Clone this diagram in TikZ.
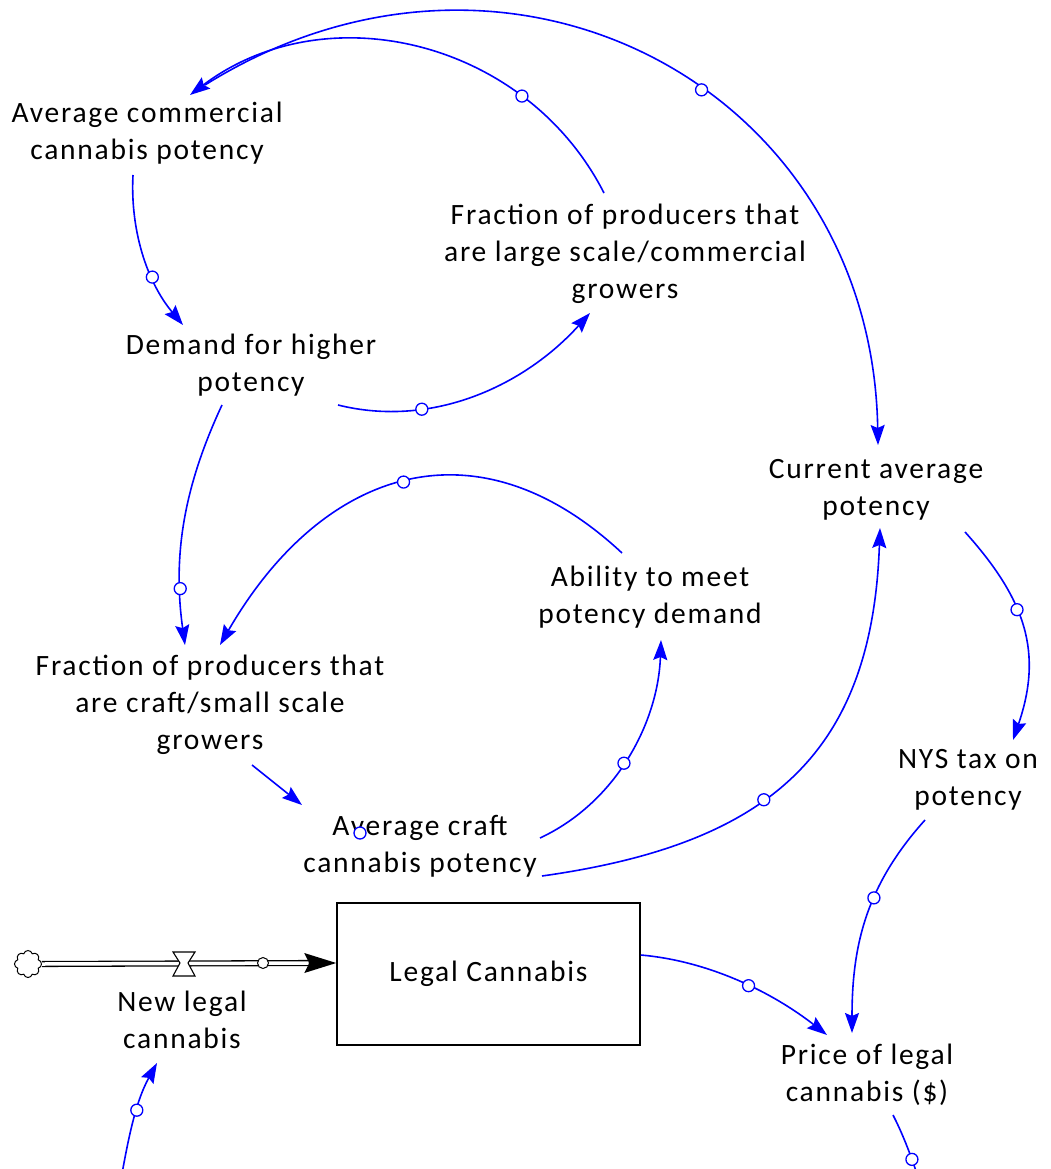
\documentclass[tikz,border=0pt]{standalone}
\usepackage{fontspec}
\setmainfont{Carlito}[LetterSpace=6]
\usetikzlibrary{arrows.meta,shapes.symbols}
\definecolor{linkblue}{RGB}{0,0,255}
\begin{document}
\begin{tikzpicture}[x=1pt,y=1pt,
  lbl/.style={align=center, inner sep=0pt, text=black, font=\fontsize{29.5}{37}\selectfont},
  link/.style={draw=linkblue, line width=1.6pt, -{Stealth[length=20pt,width=14pt,inset=3pt]}},
  pol/.style={circle, draw=linkblue, fill=white, line width=1.3pt, minimum size=12pt, inner sep=0pt},
  pipe/.style={draw=black, line width=1.3pt, double=white, double distance=3.5pt},
]
\clip (0,0) rectangle (1051,-1169);

% variables
\node[lbl] (acp) at (147,-133) {Average commercial\\cannabis potency};
\node[lbl] (flc) at (625,-254) {Fraction of producers that\\are large scale/commercial\\growers};
\node[lbl] (dhp) at (251,-365) {Demand for higher\\potency};
\node[lbl] (cap) at (876,-490) {Current average\\potency};
\node[lbl] (amp) at (650,-597) {Ability to meet\\potency demand};
\node[lbl] (fcs) at (210,-705) {Fraction of producers that\\are craft/small scale\\growers};
\node[lbl] (nys) at (968,-780) {NYS tax on\\potency};
\node[lbl] (acr) at (420,-846) {Average craft\\cannabis potency};
\node[lbl] (nlc) at (182,-1020) {New legal\\cannabis};
\node[lbl] (price) at (867,-1075) {Price of legal\\cannabis (\$)};

% stock
\node[lbl, draw=black, line width=1.5pt, minimum width=303pt, minimum height=142pt] (stock) at (488.5,-974) {Legal Cannabis};

% inflow pipe: source cloud, valve and arrow into the stock
\node[cloud, cloud puffs=8, draw=black, line width=1pt, fill=white, minimum width=27pt, minimum height=27pt, inner sep=0pt] (src) at (28,-964) {};
\coordinate (pipeend) at ([yshift=11]stock.west);
\draw[pipe] (src.east) -- ([xshift=-28]pipeend);
\fill[black] (pipeend) -- ([xshift=-32,yshift=10]pipeend) -- ([xshift=-27]pipeend) -- ([xshift=-32,yshift=-10]pipeend) -- cycle;
\coordinate (valve) at (184,-963);
\draw[black, line width=1.1pt, fill=white]
  ([shift={(-11,11)}]valve) -- ([shift={(11,11)}]valve) -- ([shift={(4,0)}]valve)
  -- ([shift={(11,-13)}]valve) -- ([shift={(-11,-13)}]valve) -- ([shift={(-4,0)}]valve) -- cycle;
\node[circle, draw=black, fill=white, line width=1pt, minimum size=11pt, inner sep=0pt] (flowmark) at (263,-963) {};

% causal links
\draw[link] ([shift={(87,-40)}]dhp.center) to[out=-14,in=228,looseness=0.93] node[pol,pos=0.3]{} ([shift={(-35,-59)}]flc.center);
\draw[link] ([shift={(-21,61)}]flc.center) to[out=117,in=37,looseness=1.03] node[pol,pos=0.26]{} ([shift={(43,38)}]acp.center);
\draw[link] ([shift={(58,48)}]acp.center) to[out=32,in=91,looseness=1.2] node[pol,pos=0.565]{} ([shift={(2,45)}]cap.center);
\draw[link] ([shift={(-14,-42)}]acp.center) to[out=-93,in=130,looseness=0.9] node[pol,pos=0.65]{} ([shift={(-68,40)}]dhp.center);
\draw[link] ([shift={(-29,-40)}]dhp.center) to[out=-115,in=98,looseness=0.95] node[pol,pos=0.78]{} ([shift={(-25,60)}]fcs.center);
\draw[link] ([shift={(-28,44)}]amp.center) to[out=137,in=60,looseness=1.25] node[pol,pos=0.5]{} ([shift={(10,60)}]fcs.center);
\draw[link] ([shift={(42,-60)}]fcs.center) -- ([shift={(-118,41)}]acr.center);
\node[pol] (acrmark) at (360,-833) {};
\draw[link] ([shift={(120,8)}]acr.center) to[out=25,in=-92,looseness=0.92] node[pol,pos=0.47]{} ([shift={(11,-43)}]amp.center);
\draw[link] ([shift={(122,-30)}]acr.center) to[out=8,in=-92,looseness=1.2] node[pol,pos=0.42]{} ([shift={(4,-38)}]cap.center);
\draw[link] ([shift={(89,-42)}]cap.center) to[out=-48,in=71,looseness=1.1] node[pol,pos=0.4]{} ([shift={(45,40)}]nys.center);
\draw[link] ([shift={(-43,-40)}]nys.center) to[out=-132,in=90,looseness=1.0] node[pol,pos=0.4]{} ([shift={(-15,42)}]price.center);
\draw[link] (stock.east |- 0,-955) to[out=-5,in=142,looseness=0.87] node[pol,pos=0.55]{} ([shift={(-40,40)}]price.center);

% links crossing the lower edge
\coordinate (inbelow) at (120,-1185);
\draw[link] (inbelow) to[out=80,in=241,looseness=0.9] node[pol,pos=0.6]{} ([shift={(-25,-43)}]nlc.center);
\coordinate (outbelow) at (928,-1205);
\draw[link] ([shift={(26,-40)}]price.center) to[out=-63,in=110,looseness=0.9] node[pol,pos=0.5]{} (outbelow);
\end{tikzpicture}
\end{document}
